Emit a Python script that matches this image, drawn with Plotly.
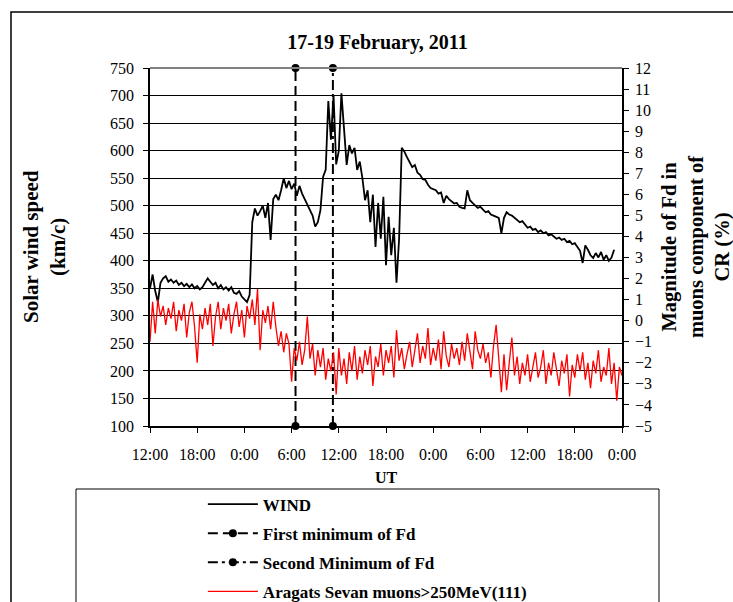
import pandas as pd
import plotly.graph_objects as go

# ---- data ----
wind_start = "2011-02-17 12:00"
wind_step = "20min"
wind_speed = [
    350, 375, 345, 325, 360, 368, 372, 362, 366, 360, 364, 356,
    360, 354, 358, 352, 357, 350, 354, 348, 352, 360, 368, 362,
    356, 360, 350, 356, 348, 352, 346, 352, 342, 340, 345, 335,
    330, 325, 338, 470, 495, 482, 490, 500, 478, 505, 438, 512,
    520, 510, 528, 550, 532, 545, 530, 540, 518, 536, 522, 512,
    505, 495, 482, 462, 470, 492, 552, 565, 690, 620, 700, 575,
    600, 704, 630, 574, 610, 595, 605, 565, 580, 550, 510, 528,
    470, 520, 425, 505, 440, 516, 392, 480, 410, 460, 360, 440,
    605, 598, 588, 580, 570, 574, 560, 556, 548, 547, 538, 532,
    530, 528, 522, 524, 505, 518, 512, 508, 504, 505, 498, 496,
    495, 528, 510, 505, 500, 496, 498, 492, 488, 490, 484, 482,
    480, 478, 450, 478, 488, 484, 482, 478, 474, 470, 472, 465,
    460, 462, 456, 458, 452, 455, 450, 452, 446, 448, 444, 440,
    442, 438, 440, 434, 436, 430, 432, 425, 418, 396, 428, 420,
    410, 405, 414, 406, 416, 402, 410, 400, 406, 420,
]

cr_start = "2011-02-17 12:00"
cr_step = "20min"
cr_muons = [
    -1.0, 0.9, -0.6, 1.0, 0.2, 0.7, -0.2, 0.6, 0.1, 0.9, -0.5, 0.5,
    0.0, 0.8, -0.8, 0.4, 0.9, -0.3, -2.0, 0.3, -0.4, 0.6, -0.2, 0.8,
    -1.2, 0.2, 0.9, -0.4, 0.6, 0.0, 0.8, -0.6, 0.3, 0.9, -0.3, 0.5,
    -0.8, 0.7, 0.1, 1.0, -0.2, 1.5, -1.4, 0.5, -0.1, 0.7, -0.4, 0.9,
    -0.3, -1.2, -0.5, -1.5, -0.6, -1.1, -2.9, -1.3, -1.9, -1.0, -2.1, -1.4,
    0.2, -1.8, -1.1, -2.6, -1.4, -2.2, -1.3, -2.8, -1.8, -2.4, -1.5, -3.5,
    -1.3, -2.6, -1.8, -3.0, -1.5, -2.4, -1.2, -2.8, -1.7, -2.5, -1.4, -2.1,
    -1.2, -3.1, -1.7, -2.2, -1.1, -2.6, -1.4, -2.0, -1.2, -2.7, -0.45, -1.9,
    -1.3, -2.3, -1.6, -1.0, -2.2, -1.4, -0.6, -2.0, -1.2, -1.8, -0.35, -2.1,
    -1.3, -1.9, -0.9, -2.3, -0.5, -1.7, -2.2, -1.1, -1.8, -1.3, -2.1, -1.0,
    -1.9, -0.6, -1.5, -2.3, -0.5, -1.4, -1.8, -1.1, -2.0, -1.5, -2.7, -1.2,
    -0.2, -1.9, -3.4, -1.6, -3.3, -2.0, -0.8, -2.6, -1.7, -3.0, -2.0, -2.6,
    -1.6, -2.9, -2.1, -1.5, -2.7, -2.2, -1.4, -3.0, -2.0, -2.6, -1.5, -2.3,
    -3.1, -1.9, -2.5, -1.6, -3.6, -2.1, -2.7, -1.6, -2.4, -1.5, -2.8, -2.0,
    -3.2, -1.9, -2.5, -1.4, -2.9, -2.2, -2.6, -1.3, -3.0, -2.0, -3.8, -2.2,
    -2.6,
]

fd_first_time = "2011-02-18 06:30"
fd_second_time = "2011-02-18 11:15"
fd_span = [100, 750]

x_range = ["2011-02-17 12:00", "2011-02-20 00:00"]

wind_time = pd.date_range(wind_start, periods=len(wind_speed), freq=wind_step)
cr_time = pd.date_range(cr_start, periods=len(cr_muons), freq=cr_step)

FONT = "Liberation Serif"

fig = go.Figure()
fig.add_trace(go.Scatter(
    x=wind_time, y=wind_speed, mode="lines", yaxis="y",
    line=dict(color="black", width=1.8),
    name="<b>WIND</b>", legendgroup="a",
))
fig.add_trace(go.Scatter(
    x=[fd_first_time, fd_first_time], y=fd_span, mode="lines+markers", yaxis="y",
    line=dict(color="black", width=2, dash="10px,5px"),
    marker=dict(size=8, color="black"), cliponaxis=False,
    name="<b>First minimum of Fd</b>", legendgroup="b",
))
fig.add_trace(go.Scatter(
    x=[fd_second_time, fd_second_time], y=fd_span, mode="lines+markers", yaxis="y",
    line=dict(color="black", width=2, dash="10px,4px,3px,4px"),
    marker=dict(size=8, color="black"), cliponaxis=False,
    name="<b>Second Minimum of Fd</b>", legendgroup="c",
))
fig.add_trace(go.Scatter(
    x=cr_time, y=cr_muons, mode="lines", yaxis="y2",
    line=dict(color="red", width=1.3),
    name="<b>Aragats Sevan muons&gt;250MeV(111)</b>", legendgroup="d",
))

fig.update_layout(
    width=733, height=602,
    margin=dict(l=150, r=111, t=68, b=176, autoexpand=False),
    paper_bgcolor="white", plot_bgcolor="white",
    font=dict(family=FONT, color="black", size=16),
    title=dict(text="<b>17-19 February, 2011</b>", x=377.5 / 733, y=1 - 42 / 602,
               xref="container", yref="container",
               xanchor="center", yanchor="middle",
               font=dict(family=FONT, size=20, color="black")),
    xaxis=dict(
        type="date", range=x_range, tick0=x_range[0], dtick=6 * 3600 * 1000,
        tickformat="%-H:%M", ticks="outside", ticklen=5, tickcolor="black",
        showline=True, linecolor="black", linewidth=1.5, showgrid=False,
        zeroline=False, tickfont=dict(size=16), ticklabelstandoff=8,
        automargin=False,
        title=dict(text="<b>UT</b>", font=dict(size=16), standoff=10),
    ),
    yaxis=dict(
        range=[100, 750], dtick=50, ticks="outside", ticklen=5, tickcolor="black",
        showline=True, linecolor="black", linewidth=1.5,
        showgrid=True, gridcolor="black", gridwidth=1, zeroline=False,
        tickfont=dict(size=16), ticklabelstandoff=6, automargin=False,
    ),
    yaxis2=dict(
        overlaying="y", side="right",
        range=[-5, 12], dtick=1, ticks="outside", ticklen=5, tickcolor="black",
        showline=True, linecolor="black", linewidth=1.5,
        showgrid=False, zeroline=False, automargin=False,
        tickfont=dict(size=16), ticklabelstandoff=3,
    ),
    legend=dict(
        x=0.112, y=-0.169, xanchor="left", yanchor="top",
        font=dict(family=FONT, size=17, color="black"),
        itemwidth=50, tracegroupgap=4, bgcolor="rgba(0,0,0,0)",
        traceorder="grouped",
    ),
    annotations=[
        dict(text="<b>Solar wind speed<br>(km/c)</b>", textangle=-90,
             xref="paper", yref="paper", x=-0.2245, y=0.5,
             xanchor="center", yanchor="middle", showarrow=False,
             font=dict(family=FONT, size=21, color="black")),
        dict(text="<b>Magnitude of Fd in<br>muons component of<br>CR (%)</b>", textangle=-90,
             xref="paper", yref="paper", x=1.157, y=0.5,
             xanchor="center", yanchor="middle", showarrow=False,
             font=dict(family=FONT, size=20.5, color="black")),
    ],
    shapes=[
        dict(type="rect", xref="paper", yref="paper",
             x0=-0.2945, x1=1.35, y0=-0.7, y1=1.1564,
             line=dict(color="black", width=1.5)),
        dict(type="rect", xref="paper", yref="paper",
             x0=-0.1568, x1=1.0784, y0=-0.7, y1=-0.176,
             line=dict(color="black", width=1)),
        dict(type="line", xref="paper", yref="paper",
             x0=0, x1=1, y0=1, y1=1,
             line=dict(color="#808080", width=2)),
    ],
)

# remove the default 8px page margin so the 733x602 figure fills the window exactly
fig.write_html("out.html",
               config={"displayModeBar": False},
               post_script="document.body.style.margin='0';document.body.style.overflow='hidden';")
